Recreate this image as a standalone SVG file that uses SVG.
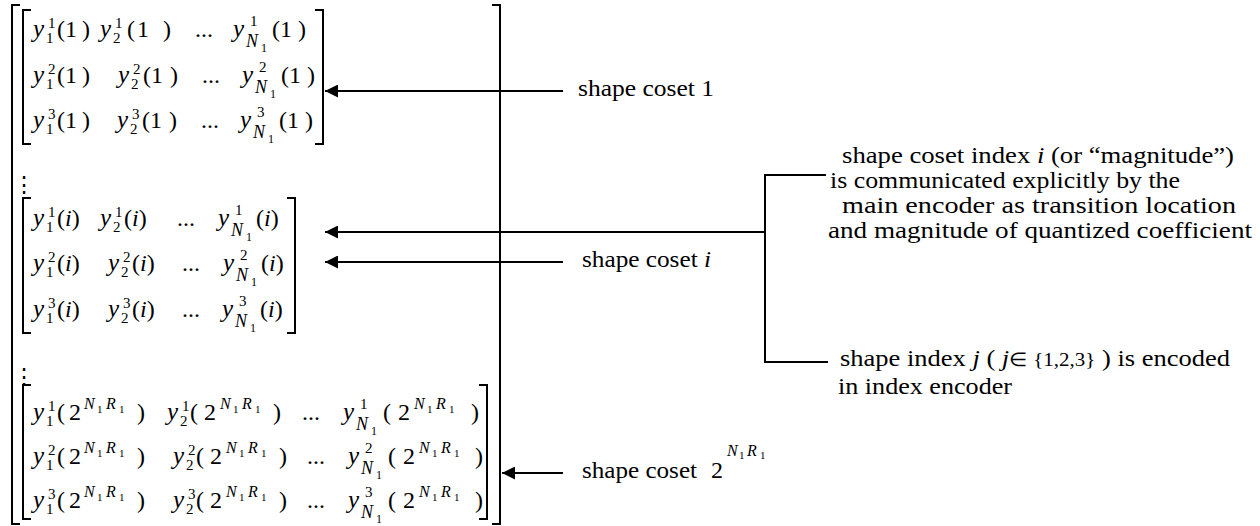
<svg xmlns="http://www.w3.org/2000/svg" width="1260" height="526" viewBox="0 0 1260 526">
<style>
text { font-family: "Liberation Serif", Tinos, "Times New Roman", Times, serif; fill: #000; }
.t { font-size: 24px; }
.v { font-size: 25px; font-style: italic; }
.s { font-size: 15px; }
.n { font-size: 18px; font-style: italic; }
.ss { font-size: 12px; }
.sn { font-size: 16px; font-style: italic; }
.sn1 { font-size: 11px; }
.it { font-style: italic; }
.vd { font-family: "DejaVu Serif", serif; font-size: 22px; }
.br { stroke: #000; stroke-width: 2; fill: none; }
.ln { stroke: #000; stroke-width: 2; fill: none; }
</style>
<defs>
<marker id="ah" markerUnits="userSpaceOnUse" markerWidth="14" markerHeight="13" refX="13" refY="6.5" orient="auto">
<path d="M0,0 L13,6.5 L0,13 z" fill="#000"/>
</marker>
</defs>
<rect width="1260" height="526" fill="#fff"/>

<g id="outer-bracket">
<path class="br" d="M20,5 H12 V524 H20"/>
<path class="br" d="M492,5 H500 V524 H492"/>
</g>

<g id="matrix-1">
<path class="br" d="M31,10 H23 V144 H31"/>
<path class="br" d="M315,10 H323 V144 H315"/>
<text class="v" x="33" y="37">y</text><text class="s" x="48" y="28">1</text><text class="s" x="46" y="43">1</text><text class="t" x="57" y="37">(1<tspan dx="5">)</tspan></text>
<text class="v" x="100" y="37">y</text><text class="s" x="115" y="28">1</text><text class="s" x="113" y="43">2</text><text class="t" x="127" y="37">(<tspan dx="2">1</tspan><tspan dx="14">)</tspan></text>
<text class="t" x="195" y="37">...</text>
<text class="v" x="233" y="37">y</text><text class="s" x="250" y="26">1</text><text class="n" x="246" y="47">N</text><text class="ss" x="261" y="52">1</text><text class="t" x="272" y="37">(1<tspan dx="6">)</tspan></text>
<text class="v" x="33" y="83">y</text><text class="s" x="48" y="74">2</text><text class="s" x="46" y="89">1</text><text class="t" x="57" y="83">(1<tspan dx="5">)</tspan></text>
<text class="v" x="118" y="83">y</text><text class="s" x="133" y="74">2</text><text class="s" x="131" y="89">2</text><text class="t" x="143" y="83">(1<tspan dx="7">)</tspan></text>
<text class="t" x="202" y="83">...</text>
<text class="v" x="242" y="83">y</text><text class="s" x="259" y="72">2</text><text class="n" x="255" y="93">N</text><text class="ss" x="270" y="98">1</text><text class="t" x="281" y="83">(1<tspan dx="6">)</tspan></text>
<text class="v" x="33" y="128">y</text><text class="s" x="48" y="119">3</text><text class="s" x="46" y="134">1</text><text class="t" x="57" y="128">(1<tspan dx="5">)</tspan></text>
<text class="v" x="117" y="128">y</text><text class="s" x="132" y="119">3</text><text class="s" x="130" y="134">2</text><text class="t" x="142" y="128">(1<tspan dx="7">)</tspan></text>
<text class="t" x="201" y="128">...</text>
<text class="v" x="240" y="128">y</text><text class="s" x="257" y="117">3</text><text class="n" x="253" y="138">N</text><text class="ss" x="268" y="143">1</text><text class="t" x="279" y="128">(1<tspan dx="6">)</tspan></text>
</g>

<g id="vdots-1">
<text class="vd" x="23.5" y="192" text-anchor="middle">⋮</text>
</g>

<g id="matrix-i">
<path class="br" d="M31,198 H23 V333 H31"/>
<path class="br" d="M287,198 H295 V333 H287"/>
<text class="v" x="33" y="226">y</text><text class="s" x="48" y="217">1</text><text class="s" x="46" y="232">1</text><text class="t" x="57" y="226">(<tspan class="it">i</tspan>)</text>
<text class="v" x="100" y="226">y</text><text class="s" x="115" y="217">1</text><text class="s" x="113" y="232">2</text><text class="t" x="124" y="226">(<tspan class="it">i</tspan>)</text>
<text class="t" x="177" y="226">...</text>
<text class="v" x="218" y="226">y</text><text class="s" x="235" y="215">1</text><text class="n" x="231" y="236">N</text><text class="ss" x="246" y="241">1</text><text class="t" x="256" y="226">(<tspan class="it">i</tspan>)</text>
<text class="v" x="33" y="271">y</text><text class="s" x="48" y="262">2</text><text class="s" x="46" y="277">1</text><text class="t" x="57" y="271">(<tspan class="it">i</tspan>)</text>
<text class="v" x="108" y="271">y</text><text class="s" x="123" y="262">2</text><text class="s" x="121" y="277">2</text><text class="t" x="132" y="271">(<tspan class="it">i</tspan>)</text>
<text class="t" x="182" y="271">...</text>
<text class="v" x="223" y="271">y</text><text class="s" x="240" y="260">2</text><text class="n" x="236" y="281">N</text><text class="ss" x="251" y="286">1</text><text class="t" x="261" y="271">(<tspan class="it">i</tspan>)</text>
<text class="v" x="33" y="317">y</text><text class="s" x="48" y="308">3</text><text class="s" x="46" y="323">1</text><text class="t" x="57" y="317">(<tspan class="it">i</tspan>)</text>
<text class="v" x="108" y="317">y</text><text class="s" x="123" y="308">3</text><text class="s" x="121" y="323">2</text><text class="t" x="132" y="317">(<tspan class="it">i</tspan>)</text>
<text class="t" x="182" y="317">...</text>
<text class="v" x="222" y="317">y</text><text class="s" x="239" y="306">3</text><text class="n" x="235" y="327">N</text><text class="ss" x="250" y="332">1</text><text class="t" x="260" y="317">(<tspan class="it">i</tspan>)</text>
</g>

<g id="vdots-2">
<text class="vd" x="23.5" y="384" text-anchor="middle">⋮</text>
</g>

<g id="matrix-2N">
<path class="br" d="M31,385 H23 V519 H31"/>
<path class="br" d="M479,385 H487 V519 H479"/>
<text class="v" x="33" y="420">y</text><text class="s" x="48" y="411">1</text><text class="s" x="46" y="426">1</text>
<text class="t" x="57" y="420">(</text><text class="t" x="69" y="420">2</text><text class="sn" x="84" y="409">N</text><text class="sn1" x="97" y="413">1</text><text class="sn" x="106" y="409">R</text><text class="sn1" x="119" y="413">1</text><text class="t" x="137" y="420">)</text>
<text class="v" x="167" y="420">y</text><text class="s" x="182" y="411">1</text><text class="s" x="180" y="426">2</text>
<text class="t" x="190" y="420">(</text><text class="t" x="204" y="420">2</text><text class="sn" x="220" y="409">N</text><text class="sn1" x="233" y="413">1</text><text class="sn" x="242" y="409">R</text><text class="sn1" x="255" y="413">1</text><text class="t" x="273" y="420">)</text>
<text class="t" x="302" y="420">...</text>
<text class="v" x="343" y="420">y</text><text class="s" x="360" y="409">1</text><text class="n" x="356" y="430">N</text><text class="ss" x="371" y="435">1</text>
<text class="t" x="383" y="420">(</text><text class="t" x="398" y="420">2</text><text class="sn" x="414" y="409">N</text><text class="sn1" x="427" y="413">1</text><text class="sn" x="436" y="409">R</text><text class="sn1" x="449" y="413">1</text><text class="t" x="471" y="420">)</text>
<text class="v" x="33" y="464">y</text><text class="s" x="48" y="455">2</text><text class="s" x="46" y="470">1</text>
<text class="t" x="57" y="464">(</text><text class="t" x="69" y="464">2</text><text class="sn" x="84" y="453">N</text><text class="sn1" x="97" y="457">1</text><text class="sn" x="106" y="453">R</text><text class="sn1" x="119" y="457">1</text><text class="t" x="137" y="464">)</text>
<text class="v" x="173" y="464">y</text><text class="s" x="188" y="455">2</text><text class="s" x="186" y="470">2</text>
<text class="t" x="196" y="464">(</text><text class="t" x="210" y="464">2</text><text class="sn" x="226" y="453">N</text><text class="sn1" x="239" y="457">1</text><text class="sn" x="248" y="453">R</text><text class="sn1" x="261" y="457">1</text><text class="t" x="279" y="464">)</text>
<text class="t" x="307" y="464">...</text>
<text class="v" x="348" y="464">y</text><text class="s" x="365" y="453">2</text><text class="n" x="361" y="474">N</text><text class="ss" x="376" y="479">1</text>
<text class="t" x="388" y="464">(</text><text class="t" x="403" y="464">2</text><text class="sn" x="419" y="453">N</text><text class="sn1" x="432" y="457">1</text><text class="sn" x="441" y="453">R</text><text class="sn1" x="454" y="457">1</text><text class="t" x="475" y="464">)</text>
<text class="v" x="33" y="508">y</text><text class="s" x="48" y="499">3</text><text class="s" x="46" y="514">1</text>
<text class="t" x="57" y="508">(</text><text class="t" x="69" y="508">2</text><text class="sn" x="84" y="497">N</text><text class="sn1" x="97" y="501">1</text><text class="sn" x="106" y="497">R</text><text class="sn1" x="119" y="501">1</text><text class="t" x="137" y="508">)</text>
<text class="v" x="173" y="508">y</text><text class="s" x="188" y="499">3</text><text class="s" x="186" y="514">2</text>
<text class="t" x="196" y="508">(</text><text class="t" x="210" y="508">2</text><text class="sn" x="226" y="497">N</text><text class="sn1" x="239" y="501">1</text><text class="sn" x="248" y="497">R</text><text class="sn1" x="261" y="501">1</text><text class="t" x="279" y="508">)</text>
<text class="t" x="307" y="508">...</text>
<text class="v" x="348" y="508">y</text><text class="s" x="365" y="497">3</text><text class="n" x="361" y="518">N</text><text class="ss" x="376" y="523">1</text>
<text class="t" x="388" y="508">(</text><text class="t" x="403" y="508">2</text><text class="sn" x="419" y="497">N</text><text class="sn1" x="432" y="501">1</text><text class="sn" x="441" y="497">R</text><text class="sn1" x="454" y="501">1</text><text class="t" x="475" y="508">)</text>
</g>

<g id="connectors">
<line class="ln" x1="563" y1="91" x2="325" y2="91" marker-end="url(#ah)"/>
<line class="ln" x1="765" y1="232" x2="325" y2="232" marker-end="url(#ah)"/>
<line class="ln" x1="563" y1="262" x2="325" y2="262" marker-end="url(#ah)"/>
<line class="ln" x1="563" y1="473" x2="502" y2="473" marker-end="url(#ah)"/>
<path class="ln" d="M826,175 H765 V362 H828"/>
</g>

<g id="label-coset-1">
<text class="t" x="578" y="96" textLength="136" lengthAdjust="spacingAndGlyphs">shape coset 1</text>
</g>
<g id="label-coset-i">
<text class="t" x="582" y="267" textLength="129" lengthAdjust="spacingAndGlyphs">shape coset <tspan class="it">i</tspan></text>
</g>
<g id="label-coset-2N">
<text class="t" x="582" y="478" textLength="115" lengthAdjust="spacingAndGlyphs">shape coset</text>
<text class="t" x="711" y="478">2</text><text class="sn" x="727" y="456">N</text><text class="sn1" x="739" y="459">1</text><text class="sn" x="747" y="456">R</text><text class="sn1" x="760" y="459">1</text>
</g>
<g id="label-magnitude">
<text class="t" x="842" y="163" textLength="392" lengthAdjust="spacingAndGlyphs">shape coset index <tspan class="it">i</tspan> (or “magnitude”)</text>
<text class="t" x="830" y="188" textLength="350" lengthAdjust="spacingAndGlyphs">is communicated explicitly by the</text>
<text class="t" x="842" y="213" textLength="394" lengthAdjust="spacingAndGlyphs">main encoder as transition location</text>
<text class="t" x="828" y="238" textLength="424" lengthAdjust="spacingAndGlyphs">and magnitude of quantized coefficient</text>
</g>
<g id="label-shape-index">
<text class="t" x="840" y="366" textLength="390" lengthAdjust="spacingAndGlyphs">shape index <tspan class="it">j</tspan> ( <tspan class="it">j</tspan><tspan font-size="19">∈ {1,2,3}</tspan> ) is encoded</text>
<text class="t" x="838" y="394" textLength="174" lengthAdjust="spacingAndGlyphs">in index encoder</text>
</g>
</svg>
